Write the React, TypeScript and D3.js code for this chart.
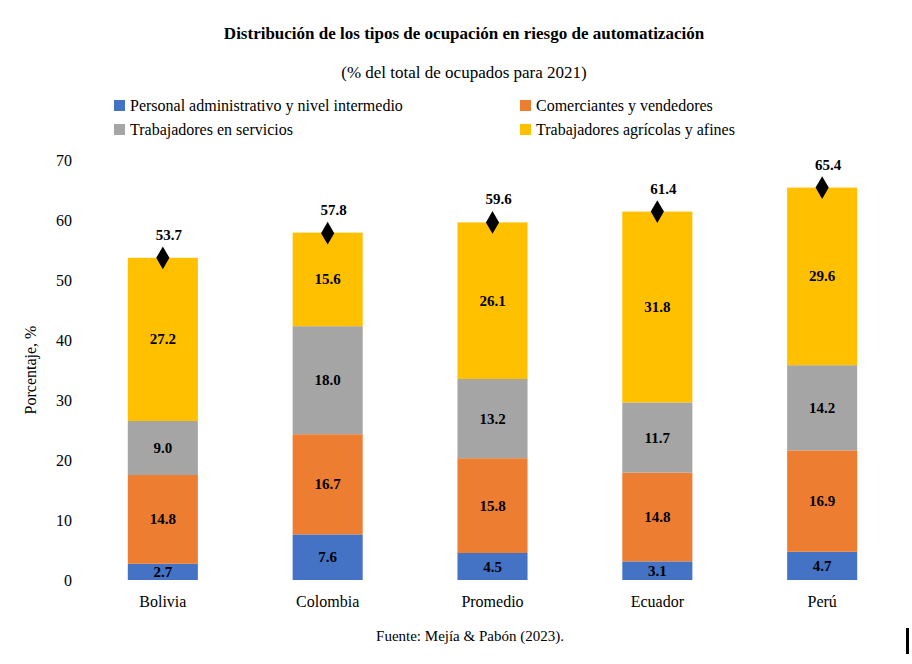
import React, { useEffect, useRef } from 'react'
import * as d3 from 'd3'

const countries = ['Bolivia', 'Colombia', 'Promedio', 'Ecuador', 'Perú']
const seriesNames = [
  'Personal administrativo y nivel intermedio',
  'Comerciantes y vendedores',
  'Trabajadores en servicios',
  'Trabajadores agrícolas y afines',
]
const colors = ['#4472C4', '#ED7D31', '#A5A5A5', '#FFC000']
const administrativo = [2.7, 7.6, 4.5, 3.1, 4.7]
const comerciantes = [14.8, 16.7, 15.8, 14.8, 16.9]
const servicios = [9.0, 18.0, 13.2, 11.7, 14.2]
const agricolas = [27.2, 15.6, 26.1, 31.8, 29.6]
const totals = [53.7, 57.8, 59.6, 61.4, 65.4]
const yTicks = [0, 10, 20, 30, 40, 50, 60, 70]

export default function App() {
  const svgRef = useRef<SVGSVGElement>(null)

  useEffect(() => {
    if (!svgRef.current) return
    const svg = d3.select(svgRef.current)
    svg.selectAll('*').remove()
    const font = '"Liberation Serif", "Times New Roman", serif'
    svg.style('font-family', font)

    const x = d3.scaleBand().domain(countries).range([80, 905]).paddingInner(0.575).paddingOuter(0.29)
    const y = d3.scaleLinear().domain([0, 70]).range([580, 160])

    // Title
    svg.append('text').attr('x', 464).attr('y', 39).attr('text-anchor', 'middle')
      .style('font-size', '17px').style('font-weight', 'bold')
      .text('Distribución de los tipos de ocupación en riesgo de automatización')
    svg.append('text').attr('x', 464).attr('y', 78).attr('text-anchor', 'middle')
      .style('font-size', '17px')
      .text('(% del total de ocupados para 2021)')

    // Legend
    const legendPos = [[114, 106], [520, 106], [114, 130], [520, 130]]
    seriesNames.forEach((name, i) => {
      const [lx, ly] = legendPos[i]
      svg.append('rect').attr('x', lx).attr('y', ly - 6).attr('width', 11).attr('height', 11).attr('fill', colors[i])
      svg.append('text').attr('x', lx + 16).attr('y', ly + 5).style('font-size', '16px').text(name)
    })

    // Y axis
    const yAxis = svg.append('g').attr('transform', 'translate(72,0)')
      .call(d3.axisLeft(y).tickValues(yTicks).tickSize(0).tickPadding(0))
    yAxis.select('.domain').remove()
    yAxis.selectAll('text').style('font-size', '16px').style('font-family', font).attr('fill', '#000')

    svg.append('text').attr('transform', 'translate(36,370) rotate(-90)').attr('text-anchor', 'middle')
      .style('font-size', '16px').text('Porcentaje, %')

    // X axis
    const xAxis = svg.append('g').attr('transform', 'translate(0,588)')
      .call(d3.axisBottom(x).tickSize(0).tickPadding(8))
    xAxis.select('.domain').remove()
    xAxis.selectAll('text').style('font-size', '16px').style('font-family', font).attr('fill', '#000')

    // Stacked bars
    const table = countries.map((c, i) => ({
      c, s0: administrativo[i], s1: comerciantes[i], s2: servicios[i], s3: agricolas[i],
    }))
    const stack = d3.stack<any>().keys(['s0', 's1', 's2', 's3'])(table)
    stack.forEach((layer, k) => {
      const g = svg.append('g')
      layer.forEach((d) => {
        const cx = x(d.data.c)!
        g.append('rect').attr('x', cx).attr('width', x.bandwidth())
          .attr('y', y(d[1])).attr('height', y(d[0]) - y(d[1])).attr('fill', colors[k])
        g.append('text').attr('x', cx + x.bandwidth() / 2).attr('y', (y(d[0]) + y(d[1])) / 2 + 5)
          .attr('text-anchor', 'middle').style('font-size', '15px').style('font-weight', 'bold')
          .text((d[1] - d[0]).toFixed(1))
      })
    })

    // Totals
    const sym = d3.symbol().type(d3.symbolDiamond).size(150)
    countries.forEach((c, i) => {
      const cx = x(c)! + x.bandwidth() / 2
      svg.append('path').attr('d', sym()!).attr('transform', `translate(${cx},${y(totals[i])})`).attr('fill', '#000')
      svg.append('text').attr('x', cx + 6).attr('y', y(totals[i]) - 18).attr('text-anchor', 'middle')
        .style('font-size', '15px').style('font-weight', 'bold').text(totals[i].toFixed(1))
    })

    svg.append('text').attr('x', 470).attr('y', 641).attr('text-anchor', 'middle')
      .style('font-size', '15px').text('Fuente: Mejía & Pabón (2023).')
    svg.append('rect').attr('x', 906).attr('y', 628).attr('width', 3).attr('height', 26).attr('fill', '#000')
  }, [])

  return <svg ref={svgRef} width={912} height={664} style={{ position: 'absolute', left: 0, top: 0, background: '#fff' }} />
}
